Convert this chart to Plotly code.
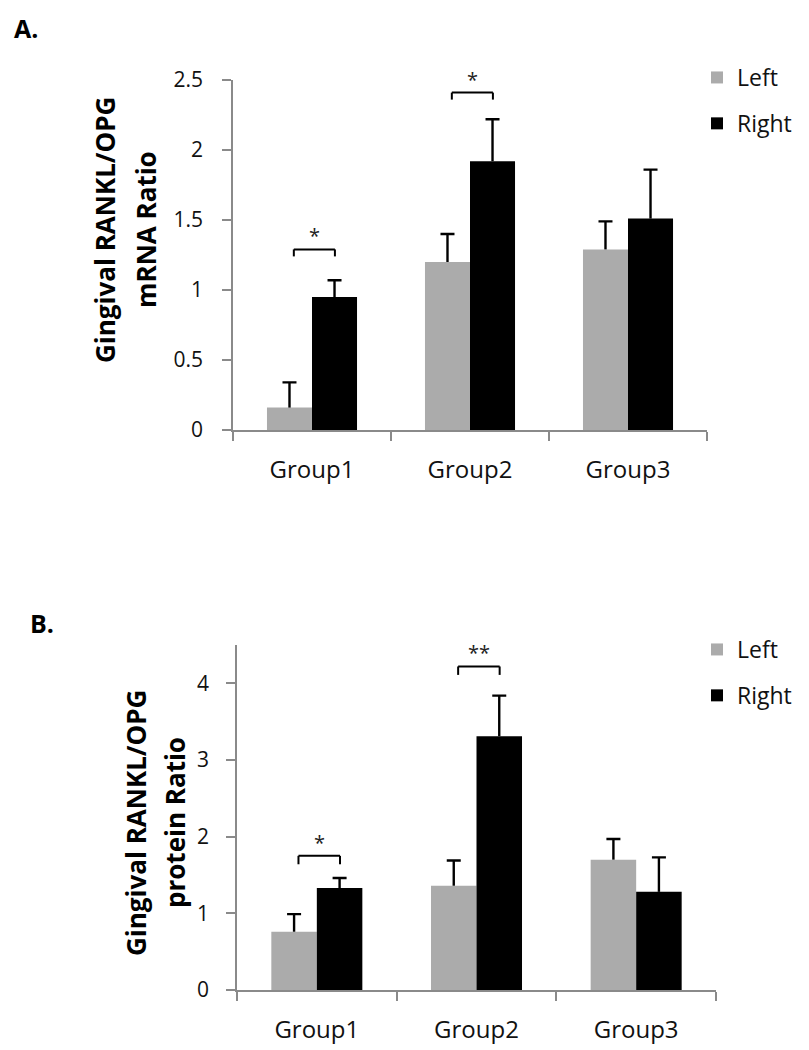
import plotly.graph_objects as go

# ---------------- data ----------------
groups = ["Group1", "Group2", "Group3"]
series_names = ["Left", "Right"]

a_left = [0.16, 1.20, 1.29]
a_left_err = [0.18, 0.20, 0.20]
a_right = [0.95, 1.92, 1.51]
a_right_err = [0.12, 0.30, 0.35]

b_left = [0.76, 1.36, 1.70]
b_left_err = [0.23, 0.33, 0.27]
b_right = [1.33, 3.31, 1.28]
b_right_err = [0.13, 0.53, 0.45]

a_sig_groups = [0, 1]
a_sig_levels = [1.29, 2.41]
a_sig_labels = ["*", "*"]
b_sig_groups = [0, 1]
b_sig_levels = [1.75, 4.22]
b_sig_labels = ["*", "**"]

a_yticks = [0, 0.5, 1, 1.5, 2, 2.5]
a_yticklabels = ["0", "0.5", "1", "1.5", "2", "2.5"]
b_yticks = [0, 1, 2, 3, 4]
b_yticklabels = ["0", "1", "2", "3", "4"]

a_title = ["Gingival RANKL/OPG", "mRNA Ratio"]
b_title = ["Gingival RANKL/OPG", "protein Ratio"]
panel_labels = ["A.", "B."]

# ---------------- style ----------------
PAGE_OFF = 8  # default body margin of the html page
W, H = 809 - PAGE_OFF, 1050 - PAGE_OFF
FONT = "Open Sans"
GRAY = "#ababab"
AXC = "#8a8a8a"
LEFT_COL = GRAY
RIGHT_COL = "#000000"


def px_x(p):
    return (p - PAGE_OFF) / W


def px_y(p):
    return 1 - (p - PAGE_OFF) / H


fig = go.Figure()


def add_panel(xa, ya, left, left_err, right, right_err, legend_name):
    zeros = [0] * len(groups)
    for name, vals, errs, col, og in [
        (series_names[0], left, left_err, LEFT_COL, "L"),
        (series_names[1], right, right_err, RIGHT_COL, "R"),
    ]:
        # main bar + error stem (no caps)
        fig.add_trace(go.Bar(
            x=groups, y=vals, name=name, marker=dict(color=col, line=dict(width=0)),
            offsetgroup=og, xaxis=xa, yaxis=ya, legend=legend_name,
            legendgroup=legend_name + og,
            error_y=dict(type="data", symmetric=False, array=errs, arrayminus=zeros,
                         color="black", thickness=2.4, width=0),
            hoverinfo="skip",
        ))
        # invisible bar used to place the top cap only
        fig.add_trace(go.Bar(
            x=groups, y=errs, base=vals, name=name, showlegend=False,
            marker=dict(color="rgba(0,0,0,0)", line=dict(width=0)),
            offsetgroup=og, xaxis=xa, yaxis=ya, legend=legend_name,
            legendgroup=legend_name + og,
            error_y=dict(type="data", symmetric=False, array=zeros, arrayminus=zeros,
                         color="black", thickness=2.4, width=7),
            hoverinfo="skip",
        ))


add_panel("x", "y", a_left, a_left_err, a_right, a_right_err, "legend")
add_panel("x2", "y2", b_left, b_left_err, b_right, b_right_err, "legend2")

# ---------------- significance brackets ----------------
shapes = []
annotations = []
BR_X0, BR_X1 = -0.115, 0.145


def add_brackets(xref, yref, gidx, levels, labels, drop):
    for g, lv, lab in zip(gidx, levels, labels):
        x0, x1 = g + BR_X0, g + BR_X1
        line = dict(color="black", width=2)
        shapes.append(dict(type="line", xref=xref, yref=yref, x0=x0, x1=x0, y0=lv - drop, y1=lv, line=line))
        shapes.append(dict(type="line", xref=xref, yref=yref, x0=x0, x1=x1, y0=lv, y1=lv, line=line))
        shapes.append(dict(type="line", xref=xref, yref=yref, x0=x1, x1=x1, y0=lv - drop, y1=lv, line=line))
        annotations.append(dict(xref=xref, yref=yref, x=(x0 + x1) / 2, y=lv, text=lab,
                                showarrow=False, yanchor="bottom", xanchor="center", yshift=-2,
                                font=dict(family=FONT, size=20, color="#222")))


add_brackets("x", "y", a_sig_groups, a_sig_levels, a_sig_labels, 0.05)
add_brackets("x2", "y2", b_sig_groups, b_sig_levels, b_sig_labels, 0.11)

# ---------------- titles / labels ----------------
title_font = dict(family=FONT, size=26, color="black", weight="bold")
for txt, cx, cy in [(a_title[0], 105, 230), (a_title[1], 146, 230),
                    (b_title[0], 136, 823), (b_title[1], 175, 823)]:
    annotations.append(dict(xref="paper", yref="paper", x=px_x(cx), y=px_y(cy), text=txt,
                            textangle=-90, showarrow=False, xanchor="center", yanchor="middle",
                            font=title_font))

for txt, lx, cy in [(panel_labels[0], 12, 28), (panel_labels[1], 28, 623)]:
    annotations.append(dict(xref="paper", yref="paper", x=px_x(lx), y=px_y(cy), text=txt,
                            showarrow=False, xanchor="left", yanchor="middle",
                            font=dict(family=FONT, size=25, color="black", weight="bold")))

axis_common = dict(showline=True, linecolor=AXC, linewidth=1.5, ticks="outside",
                   tickcolor=AXC, tickwidth=1.5, showgrid=False, zeroline=False,
                   automargin=False)

xcommon = dict(axis_common, type="category", tickson="boundaries", ticklen=9,
               tickfont=dict(family=FONT, size=24, color="#111"), ticklabelstandoff=17)

legend_common = dict(xanchor="left", yanchor="top",
                     font=dict(family=FONT, size=23, color="#111"), tracegroupgap=13,
                     traceorder="grouped", bgcolor="rgba(0,0,0,0)")

fig.update_layout(
    width=W, height=H,
    margin=dict(l=0, r=0, t=0, b=0),
    paper_bgcolor="white", plot_bgcolor="white",
    barmode="group", bargap=0.43, bargroupgap=0,
    showlegend=True,
    xaxis=dict(xcommon, domain=[px_x(233), px_x(707)], anchor="y"),
    yaxis=dict(axis_common, domain=[px_y(430), px_y(80)], anchor="x", range=[0, 2.5],
               tickvals=a_yticks, ticktext=a_yticklabels, ticklen=9,
               tickfont=dict(family=FONT, size=21, color="#111"), ticklabelstandoff=15),
    xaxis2=dict(xcommon, domain=[px_x(237), px_x(716)], anchor="y2"),
    yaxis2=dict(axis_common, domain=[px_y(990), px_y(645)], anchor="x2", range=[0, 4.5],
                tickvals=b_yticks, ticktext=b_yticklabels, ticklen=9,
                tickfont=dict(family=FONT, size=21, color="#111"), ticklabelstandoff=13),
    legend=dict(legend_common, x=px_x(697), y=px_y(56)),
    legend2=dict(legend_common, x=px_x(697), y=px_y(628)),
    shapes=shapes,
    annotations=annotations,
)

fig.write_html("out.html")
